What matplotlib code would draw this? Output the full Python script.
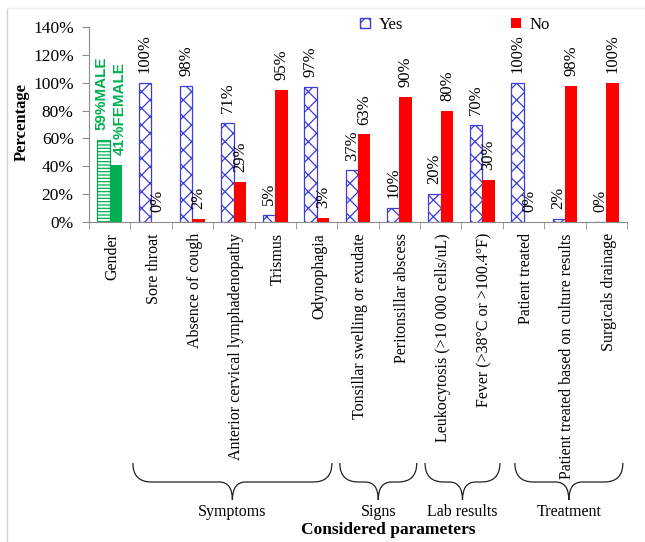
import matplotlib

matplotlib.use("Agg")
import matplotlib.pyplot as plt
import numpy as np
from matplotlib.lines import Line2D
from matplotlib.patches import PathPatch, Patch
from matplotlib.path import Path
from matplotlib.transforms import blended_transform_factory

categories = [
    "Gender",
    "Sore throat",
    "Absence of cough",
    "Anterior cervical lymphadenopathy",
    "Trismus",
    "Odynophagia",
    "Tonsillar swelling or exudate",
    "Peritonsillar abscess",
    "Leukocytosis (>10 000 cells/uL)",
    "Fever (>38\u00b0C or >100.4\u00b0F)",
    "Patient treated",
    "Patient treated based on culture results",
    "Surgicals drainage",
]
yes_pct = [100, 98, 71, 5, 97, 37, 10, 20, 70, 100, 2, 0]
no_pct = [0, 2, 29, 95, 3, 63, 90, 80, 30, 0, 98, 100]
gender_labels = ["59%MALE", "41%FEMALE"]
gender_pct = [59, 41]

groups = [
    ("Symptoms", 1 - 0.44, 5 + 0.37),
    ("Signs", 6 - 0.44, 7 + 0.42),
    ("Lab results", 8 - 0.38, 9 + 0.43),
    ("Treatment", 10 - 0.21, 12 + 0.40),
]

BLUE = "#3C3CD6"
RED = "#FF0000"
GREEN = "#00B050"
GRAY = "#8C8C8C"
SERIF = "Liberation Serif"

plt.rcParams["font.family"] = SERIF
plt.rcParams["hatch.linewidth"] = 0.9

fig = plt.figure(figsize=(6.45, 5.42), dpi=100)
W, H = 645, 542
ax = fig.add_axes([89 / W, 1 - 222 / H, (627 - 89) / W, (222 - 27) / H])

x = np.arange(len(categories))
bw = 0.30
xs = x[1:]

ax.bar(xs - bw / 2, [v / 100 for v in yes_pct], bw, facecolor="white",
       edgecolor=BLUE, hatch="xx", linewidth=0.9)
ax.bar(xs + bw / 2, [v / 100 for v in no_pct], bw, color=RED, linewidth=0)

# gender pair
ax.bar(x[0] - bw / 2, gender_pct[0] / 100, bw, facecolor="white",
       edgecolor=GREEN, hatch="-----", linewidth=0.9)
ax.bar(x[0] + bw / 2, gender_pct[1] / 100, bw, color=GREEN, linewidth=0)
for dx, off, v, lab in zip([-bw / 2, bw / 2], [-1.5, 2.5], gender_pct, gender_labels):
    ax.annotate(lab, (x[0] + dx, v / 100), xytext=(off, 7), textcoords="offset points",
                rotation=90, ha="center", va="bottom", color=GREEN,
                fontsize=11, fontweight="bold", family="Liberation Sans")

for xi, yv, nv in zip(xs, yes_pct, no_pct):
    for dx, v in ((-bw / 2, yv), (bw / 2, nv)):
        ax.annotate(f"{v}%", (xi + dx, v / 100), xytext=(0, 7), textcoords="offset points",
                    rotation=90, ha="center", va="bottom", fontsize=12)

ax.set_xlim(-0.5, len(categories) - 0.5)
ax.set_ylim(0, 1.4)
ax.set_yticks(np.arange(0, 1.41, 0.2))
ax.set_yticklabels([f"{int(round(t * 100))}%" for t in np.arange(0, 1.41, 0.2)], fontsize=12.5)
ax.set_xticks(x + 0.06)
ax.set_xticklabels(categories, rotation=90, fontsize=11.5)
ax.set_xticks(np.arange(-0.5, len(categories)), minor=True)
ax.tick_params(axis="x", which="major", length=0, pad=8)
ax.tick_params(axis="x", which="minor", length=5, color=GRAY)
ax.tick_params(axis="y", length=5, color=GRAY, pad=6)
for side in ("top", "right"):
    ax.spines[side].set_visible(False)
for side in ("left", "bottom"):
    ax.spines[side].set_color(GRAY)

handles = [Patch(facecolor="white", edgecolor=BLUE, hatch="xx", label="Yes"),
           Patch(facecolor=RED, label="No")]
fig.legend(handles=handles, loc="center left", bbox_to_anchor=(360 / W, 1 - 25 / H),
           ncol=2, frameon=False, fontsize=12, handlelength=0.6, handleheight=0.6,
           handletextpad=0.5, columnspacing=6.5, borderpad=0, borderaxespad=0)

fig.text(22 / W, 1 - 122 / H, "Percentage", rotation=90, ha="center", va="center",
         fontsize=12, fontweight="bold")

# braces below the tick labels
tr = blended_transform_factory(ax.transData, fig.transFigure)
y_top, y_mid, y_tip = 1 - 463 / H, 1 - 482 / H, 1 - 500 / H
for name, x0, x1 in groups:
    xm = (x0 + x1) / 2
    r = 0.45
    c = 0.32
    verts = [(x0, y_top), (x0, y_mid), (x0 + r, y_mid),
             (xm - c, y_mid), (xm, y_mid), (xm, y_tip),
             (xm, y_mid), (xm + c, y_mid),
             (x1 - r, y_mid), (x1, y_mid), (x1, y_top)]
    codes = [Path.MOVETO, Path.CURVE3, Path.CURVE3,
             Path.LINETO, Path.CURVE3, Path.CURVE3,
             Path.CURVE3, Path.CURVE3,
             Path.LINETO, Path.CURVE3, Path.CURVE3]
    ax.add_patch(PathPatch(Path(verts, codes), transform=tr, facecolor="none",
                           edgecolor="#222222", linewidth=0.9, clip_on=False))
    fig.text(xm, 1 - 512 / H, name, transform=tr, ha="center", va="center", fontsize=11.5)

fig.text(388 / W, 1 - 530 / H, "Considered parameters", ha="center", va="center",
         fontsize=12.5, fontweight="bold")

# light chart-area border
fig.add_artist(Line2D([7 / W, 7 / W], [0, 1 - 8 / H], color="#D0D0D0", linewidth=1))
fig.add_artist(Line2D([7 / W, 1], [1 - 8 / H, 1 - 8 / H], color="#EEEEEE", linewidth=1))

fig.savefig("out.png", dpi=100)
